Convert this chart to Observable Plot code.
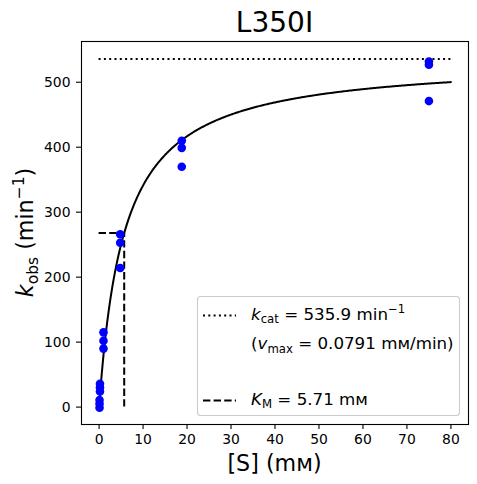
<!DOCTYPE html>
<html>
<head>
<meta charset="utf-8">
<script src="https://cdn.jsdelivr.net/npm/d3@7"></script>
<script src="https://cdn.jsdelivr.net/npm/@observablehq/plot@0.6"></script>
<style>
  html, body { margin: 0; padding: 0; background: white; }
  #chart svg { display: block; }
</style>
</head>
<body>
<div id="chart"></div>
<script>
// ---- Data ----
const title = "L350I";
const substrate = [0.1, 0.1, 0.1, 0.2, 0.2, 0.2, 1, 1, 1, 4.8, 4.8, 4.8, 18.8, 18.8, 18.8, 75, 75, 75];
const kobs      = [-1, 5, 11, 24, 30, 36, 90, 102, 115, 214, 253, 266, 370, 399, 410, 471, 527, 532];
const kcat = 535.9;
const KM = 5.71;
const vmax = 0.0791;
const fitRange = [0, 80];
const xTicks = [0, 10, 20, 30, 40, 50, 60, 70, 80];
const yTicks = [0, 100, 200, 300, 400, 500];
const xDomain = [-4, 84];
const yDomain = [-26.8, 562.7];

// ---- Derived tables ----
const points = substrate.map((s, i) => ({S: s, k: kobs[i]}));
const nFit = 400;
const fitCurve = d3.range(nFit + 1).map(i => {
  const s = fitRange[0] + (fitRange[1] - fitRange[0]) * i / nFit;
  return {S: s, k: kcat * s / (KM + s)};
});
const kcatLine = [{y: kcat, x1: fitRange[0], x2: fitRange[1]}];
const kmH = [{y: kcat / 2, x1: 0, x2: KM}];
const kmV = [{x: KM, y1: 0, y2: kcat / 2}];

const font = "DejaVu Sans, sans-serif";
const W = 477, H = 484;
const mL = 81, mR = 9, mT = 41, mB = 60;

const chart = Plot.plot({
  width: W, height: H,
  marginLeft: mL, marginRight: mR, marginTop: mT, marginBottom: mB,
  style: {fontFamily: font, fontSize: "13.9px", color: "black", background: "white"},
  x: {domain: xDomain},
  y: {domain: yDomain},
  marks: [
    Plot.line(fitCurve, {x: "S", y: "k", stroke: "black", strokeWidth: 2}),
    Plot.ruleY(kcatLine, {y: "y", x1: "x1", x2: "x2", stroke: "black", strokeWidth: 2, strokeDasharray: "2,3.3"}),
    Plot.ruleY(kmH, {y: "y", x1: "x1", x2: "x2", stroke: "black", strokeWidth: 2, strokeDasharray: "7.4,3.2"}),
    Plot.ruleX(kmV, {x: "x", y1: "y1", y2: "y2", stroke: "black", strokeWidth: 2, strokeDasharray: "7.4,3.2"}),
    Plot.dot(points, {x: "S", y: "k", r: 4.3, fill: "#0000ff", stroke: "none"}),
    Plot.frame({stroke: "black", strokeWidth: 1.1}),
    Plot.axisX({ticks: xTicks, tickSize: 5, tickPadding: 5, label: null, strokeWidth: 1.1, fontSize: 13.9}),
    Plot.axisY({ticks: yTicks, tickSize: 5, tickPadding: 6, label: null, strokeWidth: 1.1, fontSize: 13.9})
  ]
});
document.getElementById("chart").appendChild(chart);

// ---- Extra text: title, axis labels, legend ----
const svg = d3.select(chart);
const cx = mL + (W - mL - mR) / 2;

svg.append("text")
  .attr("x", cx).attr("y", 32)
  .attr("text-anchor", "middle")
  .attr("font-family", font).attr("font-size", 28).attr("fill", "black")
  .text(title);

// x label
svg.append("text")
  .attr("x", cx).attr("y", 471)
  .attr("text-anchor", "middle")
  .attr("font-family", font).attr("font-size", 22.2).attr("fill", "black")
  .text("[S] (m\u1D0D)");

// y label
const yl = svg.append("text")
  .attr("transform", `translate(33,${mT + (H - mT - mB) / 2}) rotate(-90)`)
  .attr("text-anchor", "middle")
  .attr("font-family", font).attr("font-size", 22.2).attr("fill", "black");
yl.append("tspan").attr("font-style", "italic").text("k");
yl.append("tspan").attr("font-size", 15.5).attr("dy", 4.5).text("obs");
yl.append("tspan").attr("dy", -4.5).text(" (min");
yl.append("tspan").attr("font-size", 15.5).attr("dy", -9).text("\u22121");
yl.append("tspan").attr("dy", 9).text(")");

// legend
const lg = svg.append("g");
const lx0 = 197.5, ly0 = 296.5, lx1 = 459.5, ly1 = 415.5;
lg.append("rect")
  .attr("x", lx0).attr("y", ly0).attr("width", lx1 - lx0).attr("height", ly1 - ly0)
  .attr("rx", 3).attr("ry", 3)
  .attr("fill", "white").attr("fill-opacity", 0.8)
  .attr("stroke", "#cccccc").attr("stroke-width", 1.1);

const hx0 = 203, hx1 = 236, tx = 251;
const rows = [315.5, 345, 374, 400.5];
lg.append("line").attr("x1", hx0).attr("x2", hx1).attr("y1", rows[0]).attr("y2", rows[0])
  .attr("stroke", "black").attr("stroke-width", 2).attr("stroke-dasharray", "2,3.3");
lg.append("line").attr("x1", hx0).attr("x2", hx1).attr("y1", rows[3]).attr("y2", rows[3])
  .attr("stroke", "black").attr("stroke-width", 2).attr("stroke-dasharray", "7.4,3.2");

const fs = 16.7, sfs = 11.7;
function legendText(y) {
  return lg.append("text").attr("x", tx).attr("y", y + 4)
    .attr("text-anchor", "start")
    .attr("font-family", font).attr("font-size", fs).attr("fill", "black");
}
const t1 = legendText(rows[0]);
t1.append("tspan").attr("font-style", "italic").text("k");
t1.append("tspan").attr("font-size", sfs).attr("dy", 3.5).text("cat");
t1.append("tspan").attr("dy", -3.5).text(" = " + kcat.toFixed(1) + " min");
t1.append("tspan").attr("font-size", sfs).attr("dy", -7).text("\u22121");

const t2 = legendText(rows[1]);
t2.append("tspan").text("(");
t2.append("tspan").attr("font-style", "italic").text("v");
t2.append("tspan").attr("font-size", sfs).attr("dy", 3.5).text("max");
t2.append("tspan").attr("dy", -3.5).text(" = " + vmax.toFixed(4) + " m\u1D0D/min)");

const t3 = legendText(rows[3]);
t3.append("tspan").attr("font-style", "italic").text("K");
t3.append("tspan").attr("font-size", sfs).attr("dy", 3.5).text("M");
t3.append("tspan").attr("dy", -3.5).text(" = " + KM.toFixed(2) + " m\u1D0D");
</script>
</body>
</html>
